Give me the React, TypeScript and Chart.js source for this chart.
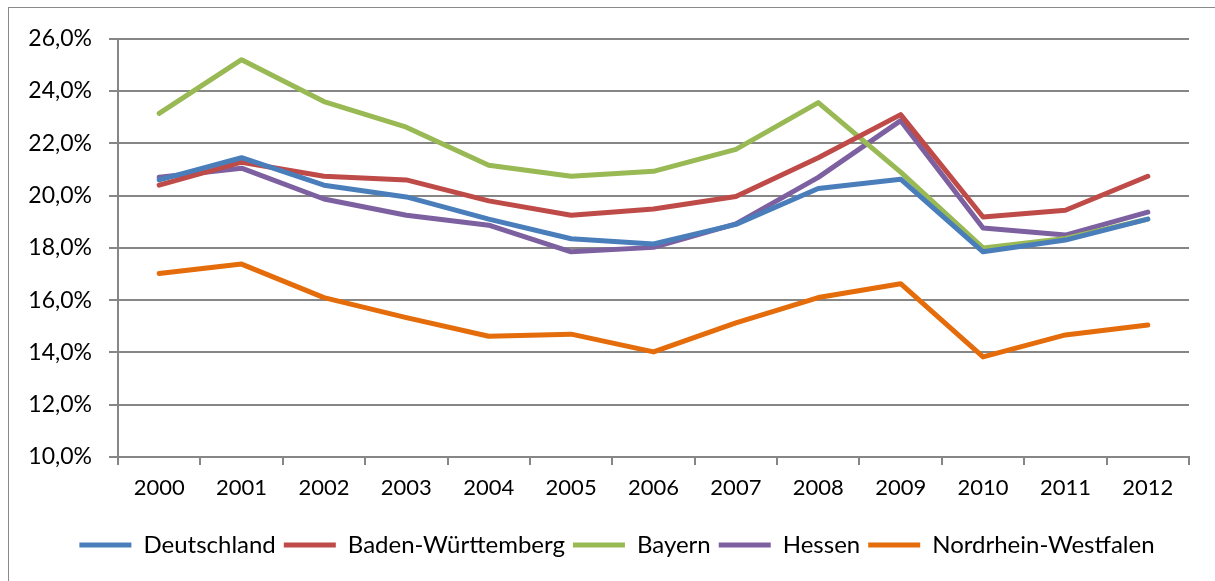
import React, { useEffect, useRef } from "react";
import { Chart, registerables } from "chart.js";

Chart.register(...registerables);

const years = ["2000", "2001", "2002", "2003", "2004", "2005", "2006", "2007", "2008", "2009", "2010", "2011", "2012"];
const deutschland = [20.6, 21.45, 20.4, 19.95, 19.1, 18.35, 18.15, 18.9, 20.27, 20.63, 17.85, 18.3, 19.1];
const badenWuerttemberg = [20.4, 21.28, 20.74, 20.6, 19.8, 19.25, 19.49, 19.97, 21.45, 23.1, 19.18, 19.44, 20.74];
const bayern = [23.15, 25.2, 23.6, 22.62, 21.16, 20.74, 20.93, 21.77, 23.56, 20.9, 18.0, 18.36, 19.1];
const hessen = [20.7, 21.05, 19.87, 19.25, 18.87, 17.85, 18.02, 18.92, 20.7, 22.87, 18.76, 18.49, 19.37];
const nrw = [17.02, 17.38, 16.1, 15.33, 14.62, 14.7, 14.02, 15.13, 16.1, 16.63, 13.83, 14.67, 15.05];
const yTicks = [10, 12, 14, 16, 18, 20, 22, 24, 26];

const FONT = "Lato";
const GRID = "#868686";

const legendShift = {
  id: "legendShift",
  afterLayout(chart: any) {
    if (chart.legend) {
      chart.legend.left += 18;
      chart.legend.right += 18;
    }
  },
};

export default function App() {
  const ref = useRef<HTMLCanvasElement | null>(null);
  useEffect(() => {
    if (!ref.current) return;
    const mk = (label: string, data: number[], color: string) => ({
      label,
      data,
      borderColor: color,
      backgroundColor: color,
      borderWidth: 5,
      pointRadius: 0,
      tension: 0,
      borderJoinStyle: "round" as const,
      borderCapStyle: "round" as const,
    });
    const chart = new Chart(ref.current, {
      type: "line",
      data: {
        labels: years,
        datasets: [
          mk("Deutschland", deutschland, "#4a7ebb"),
          mk("Baden-Württemberg", badenWuerttemberg, "#be4b48"),
          mk("Bayern", bayern, "#98b954"),
          mk("Hessen", hessen, "#7d60a0"),
          mk("Nordrhein-Westfalen", nrw, "#e46c0a"),
        ],
      },
      plugins: [legendShift],
      options: {
        animation: false,
        responsive: false,
        layout: { padding: { left: 0, right: 26, top: 25, bottom: 14 } },
        plugins: {
          tooltip: { enabled: false },
          legend: {
            position: "bottom",
            labels: {
              usePointStyle: true,
              pointStyle: "line",
              pointStyleWidth: 52,
              boxHeight: 5,
              padding: 8,
              color: "#000",
              font: { family: FONT, size: 24 },
            },
          },
        },
        scales: {
          x: {
            offset: true,
            grid: {
              display: true,
              drawOnChartArea: false,
              drawTicks: true,
              tickLength: 8,
              offset: true,
              color: GRID,
              lineWidth: 2,
            },
            border: { display: true, color: GRID, width: 2 },
            ticks: { color: "#000", font: { family: FONT, size: 22 }, padding: 10, maxRotation: 0 },
            afterFit: (s: any) => {
              s.height = 68;
            },
          },
          y: {
            min: 10,
            max: 26,
            afterBuildTicks: (s: any) => {
              s.ticks = yTicks.map((v) => ({ value: v }));
            },
            grid: { color: GRID, lineWidth: 2, tickLength: 9 },
            border: { display: true, color: GRID, width: 2 },
            ticks: {
              color: "#000",
              font: { family: FONT, size: 23 },
              padding: 17,
              callback: (v: any) => Number(v).toFixed(1).replace(".", ",") + "%",
            },
            afterFit: (s: any) => {
              s.width = 109;
            },
          },
        },
      },
    });
    return () => chart.destroy();
  }, []);
  return (
    <div
      style={{
        position: "absolute",
        left: 8,
        top: 7,
        width: 1206,
        height: 574,
        borderLeft: "1px solid #8a8a8a",
        borderTop: "1px solid #8a8a8a",
        background: "#fff",
      }}
    >
      <canvas ref={ref} width={1206} height={573} style={{ display: "block" }} />
    </div>
  );
}
